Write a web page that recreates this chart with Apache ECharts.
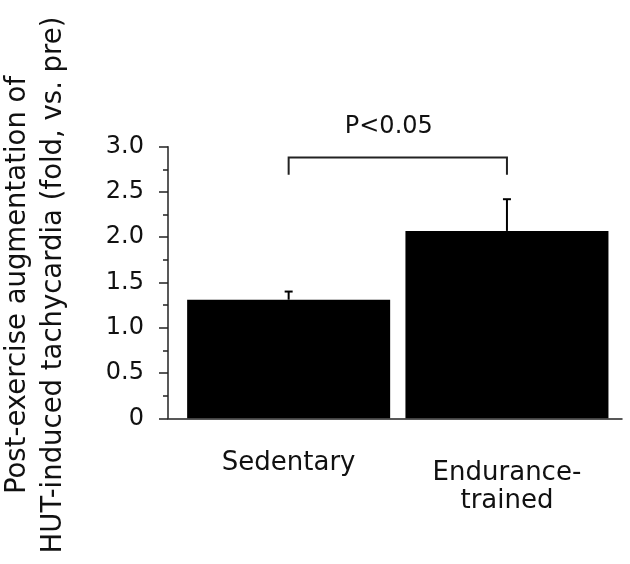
<!DOCTYPE html>
<html>
<head>
<meta charset="utf-8">
<script src="https://cdn.jsdelivr.net/npm/echarts@6/dist/echarts.min.js"></script>
<style>html,body{margin:0;padding:0;background:#fff}#c{width:630px;height:564px}</style>
</head>
<body>
<div id="c"></div>
<script>
const categories = ['Sedentary', 'Endurance-\ntrained'];
const means = [1.31, 2.07];
const errors = [0.09, 0.35];
const yTicks = [0, 0.5, 1.0, 1.5, 2.0, 2.5, 3.0];
const bracketLevels = [2.69, 2.88];
const pLabel = 'P<0.05';
const pLabelValue = 3.22;
const yTitleLines = ['Post-exercise augmentation of', 'HUT-induced tachycardia (fold, vs. pre)'];

const FONT = '"DejaVu Sans", sans-serif';
const chart = echarts.init(document.getElementById('c'), null, {renderer: 'canvas'});

const option = {
  animation: false,
  backgroundColor: '#fff',
  grid: [
    {left: 179.5, right: 13.9, top: 146.7, bottom: 145.7},
    {left: 168, right: 8, top: 146.7, bottom: 145.7}
  ],
  xAxis: [
    {
      type: 'category', gridIndex: 0, data: categories.map((c, i) => i === 1 ? {value: c, textStyle: {padding: [10, 0, 0, 0]}} : c),
      axisLine: {show: false}, axisTick: {show: false},
      axisLabel: {fontFamily: FONT, fontSize: 26, lineHeight: 28, color: '#111', margin: 31, interval: 0}
    },
    {
      type: 'value', gridIndex: 1, min: 0, max: 1,
      axisLine: {show: true, lineStyle: {color: '#222', width: 1.5}},
      axisTick: {show: false}, axisLabel: {show: false}, splitLine: {show: false}
    }
  ],
  yAxis: [
    {
      type: 'value', gridIndex: 0, min: yTicks[0], max: yTicks[yTicks.length - 1], interval: 0.5,
      offset: 11.5,
      axisLine: {show: true, lineStyle: {color: '#222', width: 1.5}},
      axisTick: {show: true, length: 9, lineStyle: {color: '#222', width: 1.5}},
      minorTick: {show: true, splitNumber: 2, length: 5, lineStyle: {color: '#222', width: 1.5}},
      splitLine: {show: false},
      axisLabel: {fontFamily: FONT, fontSize: 24, color: '#111', margin: 24,
        formatter: v => v === 0 ? '0' : v.toFixed(1)}
    },
    {type: 'value', gridIndex: 1, show: false, min: 0, max: 3}
  ],
  graphic: [{
    type: 'text', x: 0, y: 285, rotation: Math.PI / 2,
    style: {text: yTitleLines.join('\n'), font: '27.5px ' + FONT, lineHeight: 36,
      fill: '#111', align: 'center', verticalAlign: 'top'}
  }],
  series: [
    {
      type: 'bar', xAxisIndex: 0, yAxisIndex: 0, data: means,
      barCategoryGap: '7%', itemStyle: {color: '#000'}, z: 2
    },
    {
      type: 'custom', xAxisIndex: 0, yAxisIndex: 0, clip: false, z: 3,
      data: means.map((m, i) => [i, m, errors[i]]),
      encode: {x: 0, y: 1},
      renderItem: (params, api) => {
        const i = api.value(0), m = api.value(1), e = api.value(2);
        const p0 = api.coord([i, m]);
        const p1 = api.coord([i, m + e]);
        const s = {stroke: '#000', lineWidth: 2};
        return {type: 'group', children: [
          {type: 'line', shape: {x1: p0[0], y1: p0[1], x2: p1[0], y2: p1[1]}, style: s},
          {type: 'line', shape: {x1: p1[0] - 4, y1: p1[1], x2: p1[0] + 4, y2: p1[1]}, style: s}
        ]};
      }
    },
    {
      type: 'custom', xAxisIndex: 0, yAxisIndex: 0, clip: false, z: 3,
      data: [[0, 1]],
      renderItem: (params, api) => {
        const a = api.value(0), b = api.value(1);
        const pa0 = api.coord([a, bracketLevels[0]]);
        const pa1 = api.coord([a, bracketLevels[1]]);
        const pb1 = api.coord([b, bracketLevels[1]]);
        const pb0 = api.coord([b, bracketLevels[0]]);
        const pt = api.coord([a, pLabelValue]);
        return {type: 'group', children: [
          {type: 'polyline', shape: {points: [pa0, pa1, pb1, pb0]},
            style: {stroke: '#222', lineWidth: 2, fill: null}},
          {type: 'text', x: (pa1[0] + pb1[0]) / 2 - 9, y: pt[1],
            style: {text: pLabel, font: '24px ' + FONT, fill: '#111', align: 'center', verticalAlign: 'middle'}}
        ]};
      }
    }
  ]
};
chart.setOption(option);
</script>
</body>
</html>
